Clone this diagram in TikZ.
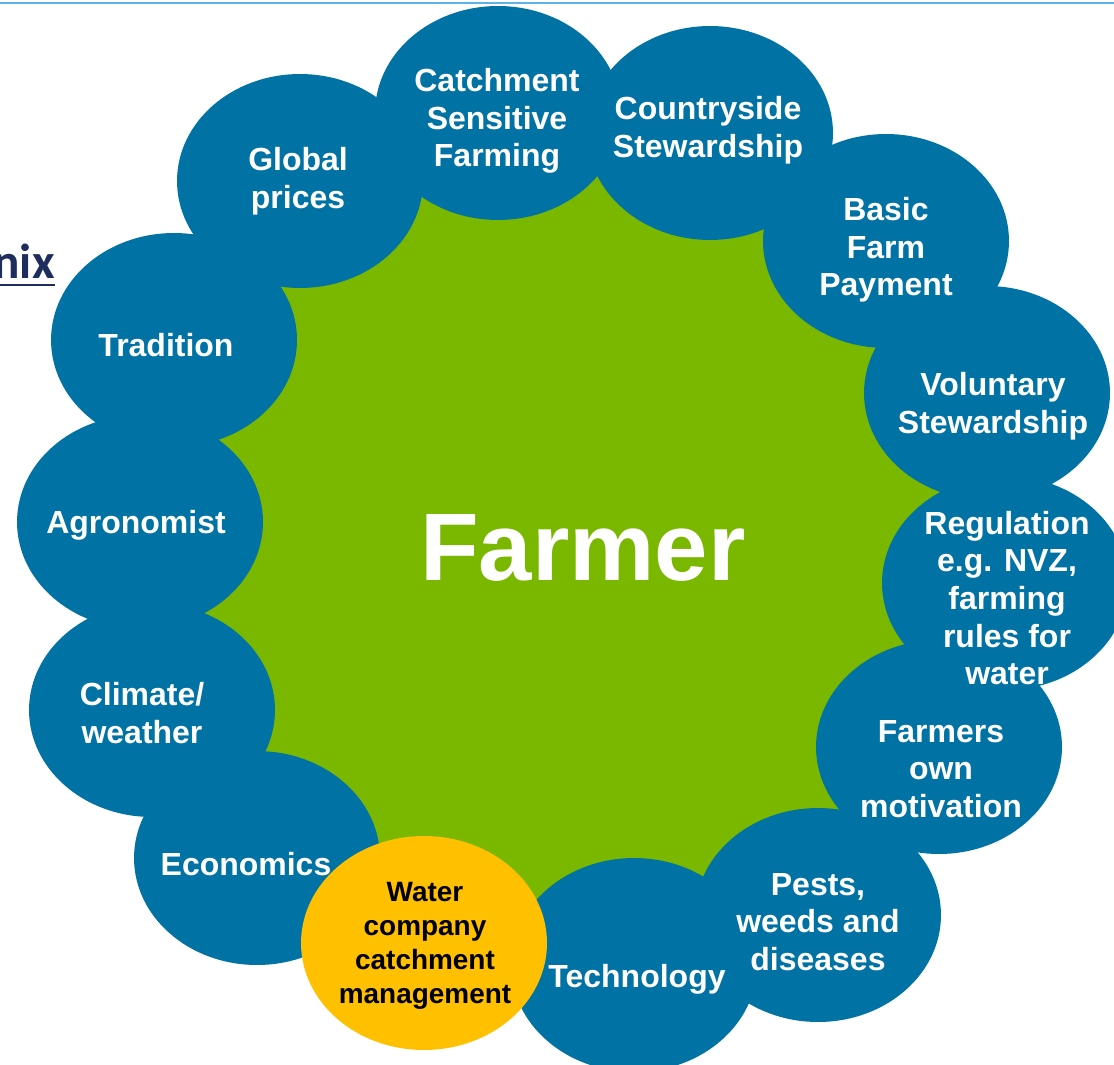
\documentclass[tikz,border=0pt]{standalone}
\usepackage{fontspec}
\setmainfont{Liberation Sans}
\newfontfamily\titlefont{Carlito}
\usetikzlibrary{shapes.geometric,backgrounds}

\definecolor{ringblue}{RGB}{0,114,164}
\definecolor{farmgreen}{RGB}{122,184,0}
\definecolor{wateryellow}{RGB}{255,192,0}
\definecolor{topline}{RGB}{91,180,229}
\definecolor{titlenavy}{RGB}{31,45,92}

\tikzset{
    bubble/.style={ellipse, fill=ringblue, minimum width=4.92cm, minimum height=4.28cm, inner sep=0pt},
    bubbletext/.style={text=white, align=center, inner sep=0pt, font=\bfseries\fontsize{18.2}{21.4}\selectfont},
}

\begin{document}
\begin{tikzpicture}[x=0.02cm, y=-0.02cm]
    \useasboundingbox (0,0) rectangle (1114,1064);
    \clip (0,0) rectangle (1114,1064);

    % Slide rule and cut title
    \draw[topline, line width=1.4pt] (0,3) -- (1114,3);
    \node[titlenavy, anchor=base east, inner sep=0pt, font=\titlefont\bfseries\fontsize{28}{30}\selectfont] (mixtitle) at (55,278) {nix};
    \draw[titlenavy, line width=1.5pt] ([yshift=-4pt]mixtitle.base west) -- ([yshift=-4pt]mixtitle.base east);

    % Outer ring (blue ellipses)
    \node[bubble] (global) at (300,181) {};
    \node[bubble] (csf) at (498,113) {};
    \node[bubble] (cstew) at (710,133) {};
    \node[bubble] (bfp) at (886,241) {};
    \node[bubble] (vstew) at (987,393) {};
    \node[bubble] (reg) at (1005,583) {};
    \node[bubble] (motiv) at (939,747) {};
    \node[bubble] (pests) at (818,915) {};
    \node[bubble] (tech) at (634,965) {};
    \node[bubble] (econ) at (257,858) {};
    \node[bubble] (climate) at (152,710) {};
    \node[bubble] (agro) at (140,522) {};
    \node[bubble] (tradition) at (174,340) {};
    % Water company bubble sits on top
    \node[bubble, fill=wateryellow] (water) at (424,943) {};

    % Green centre behind the ring
    \begin{pgfonlayer}{background}
        \fill[farmgreen] (global.center) -- (csf.center) -- (cstew.center) -- (bfp.center)
            -- (vstew.center) -- (reg.center) -- (motiv.center) -- (pests.center)
            -- (tech.center) -- (water.center) -- (econ.center) -- (climate.center)
            -- (agro.center) -- (tradition.center) -- cycle;
    \end{pgfonlayer}

    % Labels
    \node[text=white, anchor=base, inner sep=0pt, font=\bfseries\fontsize{54.6}{60}\selectfont] (farmer) at (583,580) {Farmer};
    \node[bubbletext] (globalT) at (298,181) {Global\\prices};
    \node[bubbletext] (csfT) at (497,121) {Catchment\\Sensitive\\Farming};
    \node[bubbletext] (cstewT) at (708,130) {Countryside\\Stewardship};
    \node[bubbletext] (bfpT) at (886,250) {Basic\\Farm\\Payment};
    \node[bubbletext] (vstewT) at (993,406) {Voluntary\\Stewardship};
    \node[bubbletext] (regT) at (1007,598) {Regulation\\e.g. NVZ,\\farming\\rules for\\water};
    \node[bubbletext] (motivT) at (941,769) {Farmers\\own\\motivation};
    \node[bubbletext] (pestsT) at (818,922) {Pests,\\weeds and\\diseases};
    \node[bubbletext] (techT) at (637,979) {Technology};
    \node[bubbletext] (econT) at (246,864) {Economics};
    \node[bubbletext] (climateT) at (142,713) {Climate/\\weather};
    \node[bubbletext] (agroT) at (136,525) {Agronomist};
    \node[bubbletext] (traditionT) at (166,345) {Tradition};
    \node[bubbletext, text=black, font=\bfseries\fontsize{15.9}{19.4}\selectfont] (waterT) at (425,946) {Water\\company\\catchment\\management};
\end{tikzpicture}
\end{document}
